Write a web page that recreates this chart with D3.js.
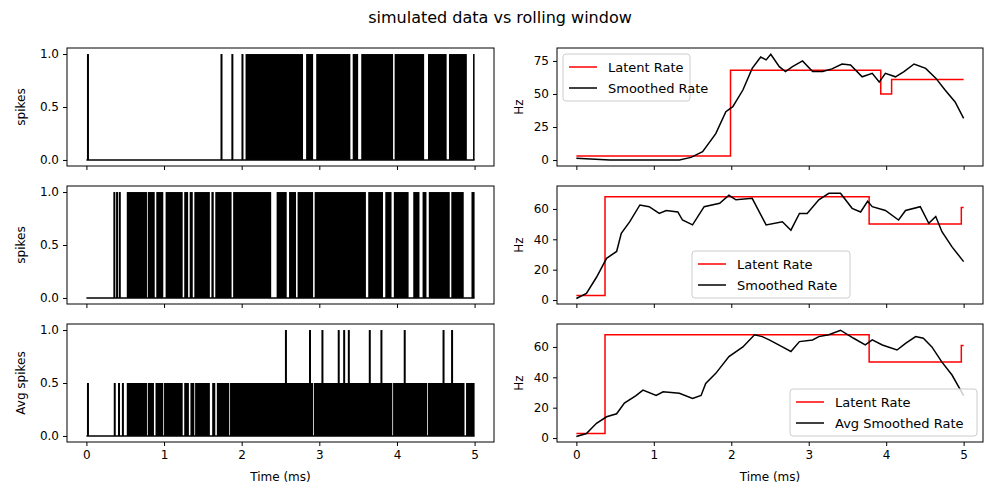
<!DOCTYPE html>
<html>
<head>
<meta charset="utf-8">
<script src="https://cdn.jsdelivr.net/npm/d3@7"></script>
<style>
  body { margin: 0; background: #fff; }
  svg { font-family: "DejaVu Sans", sans-serif; }
</style>
</head>
<body>
<svg width="1000" height="500"></svg>
<script>
// spike panels: isolated spikes and dense bursts
const spikes1 = [0.02, 1.74, 1.88, 2.01];
const bursts1 = [[2.05,2.79],[2.83,2.92],[2.96,3.40],[3.43,3.50],[3.54,3.95],[3.97,4.35],[4.40,4.64],[4.67,4.90],[4.98,5.0]];
const spikes2 = [0.36, 0.395, 0.43];
const bursts2 = [[0.52,0.78],[0.79,0.88],[0.90,0.99],[1.02,1.24],[1.26,1.31],[1.33,1.37],[1.39,1.59],[1.61,1.64],[1.66,1.87],[1.89,2.38],[2.45,2.58],[2.61,2.70],[2.72,2.92],[2.94,3.60],[3.63,3.82],[3.85,3.93],[3.96,4.15],[4.21,4.29],[4.33,4.38],[4.41,4.68],[4.70,4.86],[4.96,5.0]];
const spikes3Half = [0.02, 0.365, 0.42, 0.47];
const bursts3 = [[0.52,0.78],[0.79,0.87],[0.89,0.99],[1.0,1.24],[1.26,1.32],[1.34,1.39],[1.40,1.59],[1.62,1.66],[1.68,1.84],[1.85,2.92],[2.93,3.94],[3.95,4.39],[4.40,4.87],[4.89,5.0]];
const spikes3Full = [2.57, 2.88, 3.04, 3.25, 3.32, 3.38, 3.65, 3.80, 4.10, 4.60, 4.71];

// latent rate steps [t, value]
const latent1 = [[0,3],[1.99,3],[1.99,68],[3.93,68],[3.93,50],[4.07,50],[4.07,61],[5.0,61]];
const latent2 = [[0,3],[0.37,3],[0.37,68],[3.78,68],[3.78,50],[4.97,50],[4.97,61],[5.0,61]];
const latent3 = latent2;

// smoothed rates [t, Hz]
const smooth1 = [[0,1.3],[0.43,0],[1.33,0],[1.48,2],[1.63,6.3],[1.8,20],[1.93,36.6],[2.02,40.4],[2.15,53],[2.27,69.4],[2.38,78],[2.45,75.8],[2.51,80],[2.62,70.7],[2.70,67],[2.79,70.7],[2.92,75],[3.05,67],[3.18,67],[3.30,69],[3.43,72.7],[3.54,72],[3.69,63],[3.82,65.6],[3.91,59],[3.99,65.6],[4.12,63],[4.23,67],[4.36,72.7],[4.51,69.4],[4.64,62],[4.76,53],[4.89,44],[5.0,31.6]];
const smooth2 = [[0,1],[0.13,4.4],[0.26,15],[0.39,27.5],[0.52,32],[0.58,44],[0.69,51.6],[0.82,62.6],[0.94,61.5],[1.07,57],[1.16,59],[1.31,58],[1.37,52.7],[1.50,49.5],[1.65,61.5],[1.85,63.7],[1.97,69],[2.06,66],[2.27,67],[2.45,49.5],[2.66,51.6],[2.77,46],[2.88,57],[2.98,57],[3.13,66],[3.26,70.3],[3.41,70.3],[3.56,60.4],[3.67,58],[3.76,65],[3.82,61.5],[3.99,59],[4.16,52.7],[4.25,59],[4.44,61.5],[4.55,50.5],[4.64,55],[4.72,45],[4.85,35],[5.0,25.3]];
const smooth3 = [[0,1],[0.13,3],[0.26,9.7],[0.39,14],[0.52,16],[0.62,23],[0.77,28],[0.86,31.6],[1.03,28],[1.12,30.5],[1.33,29.5],[1.50,26],[1.61,28],[1.67,36],[1.80,42.6],[1.97,53.6],[2.15,60],[2.30,68],[2.40,66.8],[2.49,64.6],[2.66,60],[2.77,57],[2.88,63.5],[3.05,64.6],[3.13,66.8],[3.26,68],[3.41,71],[3.58,65.7],[3.73,61.3],[3.82,64.6],[3.95,61.3],[4.14,58],[4.25,62.4],[4.38,66.8],[4.48,65.7],[4.59,60],[4.72,50],[4.85,41.5],[5.0,28]];

const xTicks = [0, 1, 2, 3, 4, 5];
const spikeTicks = [0, 0.5, 1.0];
const hzTicks1 = [0, 25, 50, 75];
const hzTicks23 = [0, 20, 40, 60];

const svg = d3.select("svg");
svg.append("text").attr("x", 500).attr("y", 23).attr("text-anchor", "middle")
   .attr("font-size", 16).text("simulated data vs rolling window");

const rows = [{ top: 48, bottom: 166 }, { top: 186, bottom: 304 }, { top: 324, bottom: 442 }];
const cols = [{ left: 67, right: 494 }, { left: 557, right: 983 }];

function panel(r, c, yDomain, yTicks, yFmt, ylabel, showX) {
  const x = d3.scaleLinear().domain([-0.25, 5.25]).range([cols[c].left, cols[c].right]);
  const y = d3.scaleLinear().domain(yDomain).range([rows[r].bottom, rows[r].top]);
  const g = svg.append("g");
  g.append("g").attr("transform", `translate(0,${rows[r].bottom})`)
    .call(d3.axisBottom(x).tickValues(xTicks).tickSize(4).tickPadding(4)
      .tickFormat(showX ? d3.format("d") : () => ""))
    .call(a => a.select(".domain").remove());
  g.append("g").attr("transform", `translate(${cols[c].left},0)`)
    .call(d3.axisLeft(y).tickValues(yTicks).tickSize(4).tickPadding(4).tickFormat(yFmt))
    .call(a => a.select(".domain").remove());
  g.selectAll(".tick text").attr("font-size", 12).attr("font-family", "DejaVu Sans").attr("fill", "#000");
  g.append("text").attr("transform", `translate(${c ? cols[c].left - 34 : cols[c].left - 42},${(rows[r].top + rows[r].bottom) / 2}) rotate(-90)`)
    .attr("text-anchor", "middle").attr("font-size", 12).text(ylabel);
  if (showX) {
    g.append("text").attr("x", (cols[c].left + cols[c].right) / 2).attr("y", 481)
      .attr("text-anchor", "middle").attr("font-size", 12).text("Time (ms)");
  }
  return { g, x, y };
}

function spikePanel(r, ylabel, singles, bursts, height, fulls) {
  const p = panel(r, 0, [-0.057, 1.057], spikeTicks, d3.format(".1f"), ylabel, r === 2);
  const { g, x, y } = p;
  g.append("line").attr("x1", x(0)).attr("x2", x(5)).attr("y1", y(0)).attr("y2", y(0))
    .attr("stroke", "#000").attr("stroke-width", 1.5);
  g.selectAll(".burst").data(bursts).enter().append("rect")
    .attr("x", d => x(d[0])).attr("width", d => Math.max(1.5, x(d[1]) - x(d[0])))
    .attr("y", y(height)).attr("height", y(0) - y(height)).attr("fill", "#000");
  const sp = singles.map(t => [t, height]).concat((fulls || []).map(t => [t, 1]));
  g.selectAll(".spike").data(sp).enter().append("line")
    .attr("x1", d => x(d[0])).attr("x2", d => x(d[0])).attr("y1", y(0)).attr("y2", d => y(d[1]))
    .attr("stroke", "#000").attr("stroke-width", 2);
  frame(r, 0);
}

function ratePanel(r, yDomain, yTicks, latent, smooth, smoothName, legend) {
  const { g, x, y } = panel(r, 1, yDomain, yTicks, d3.format("d"), "Hz", r === 2);
  const line = d3.line().x(d => x(d[0])).y(d => y(d[1]));
  g.append("path").datum(latent).attr("d", line).attr("fill", "none").attr("stroke", "red").attr("stroke-width", 1.5);
  g.append("path").datum(smooth).attr("d", line).attr("fill", "none").attr("stroke", "#000").attr("stroke-width", 1.5);
  const lg = g.append("g").attr("transform", `translate(${legend.x},${legend.y})`);
  lg.append("rect").attr("width", legend.w).attr("height", 47).attr("rx", 3)
    .attr("fill", "rgba(255,255,255,0.8)").attr("stroke", "#ccc");
  [["Latent Rate", "red"], [smoothName, "#000"]].forEach((item, i) => {
    lg.append("line").attr("x1", 6).attr("x2", 34).attr("y1", 13 + i * 21).attr("y2", 13 + i * 21)
      .attr("stroke", item[1]).attr("stroke-width", 1.5);
    lg.append("text").attr("x", 45).attr("y", 18 + i * 21).attr("font-size", 13).text(item[0]);
  });
  frame(r, 1);
}

function frame(r, c) {
  svg.append("rect").attr("x", cols[c].left).attr("y", rows[r].top)
    .attr("width", cols[c].right - cols[c].left).attr("height", rows[r].bottom - rows[r].top)
    .attr("fill", "none").attr("stroke", "#000").attr("stroke-width", 1);
}

spikePanel(0, "spikes", spikes1, bursts1, 1);
spikePanel(1, "spikes", spikes2, bursts2, 1);
spikePanel(2, "Avg spikes", spikes3Half, bursts3, 0.5, spikes3Full);

ratePanel(0, [-4.5, 84.8], hzTicks1, latent1, smooth1, "Smoothed Rate", { x: 563, y: 54, w: 127 });
ratePanel(1, [-2.6, 75.1], hzTicks23, latent2, smooth2, "Smoothed Rate", { x: 692, y: 251, w: 158 });
ratePanel(2, [-2.6, 75.1], hzTicks23, latent3, smooth3, "Avg Smoothed Rate", { x: 790, y: 389, w: 187 });
</script>
</body>
</html>
